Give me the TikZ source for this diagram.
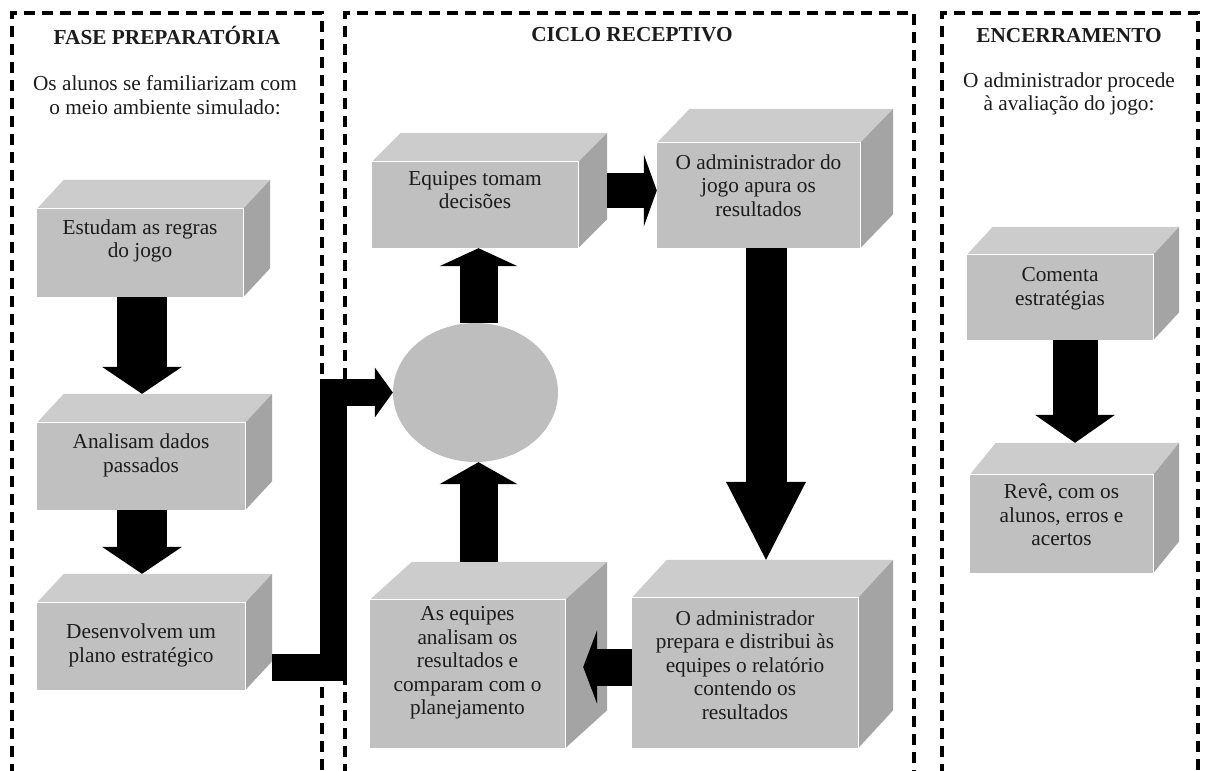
\documentclass[tikz,border=0pt]{standalone}
\usepackage{fontspec}
\setmainfont{Liberation Serif}
\usetikzlibrary{arrows.meta,calc,fit,shapes.geometric}
\definecolor{frontc}{HTML}{C0C0C0}
\definecolor{topc}{HTML}{CCCCCC}
\definecolor{sidec}{HTML}{A4A4A4}
\definecolor{circc}{HTML}{BEBEBE}
\definecolor{txtc}{HTML}{1C1C1C}
% #1 name, #2 x1, #3 ytop, #4 x2, #5 ybot, #6 depth dx, #7 depth dy
\newcommand\mycube[7]{%
  \node[fit={(#2,#3) (#4,#5)}, inner sep=0pt, fill=frontc] (#1) {};
  \fill[topc] (#1.north west) -- ++(#6,-#7) -- ([shift={(#6,-#7)}]#1.north east) -- (#1.north east) -- cycle;
  \fill[sidec] (#1.north east) -- ++(#6,-#7) -- ([shift={(#6,-#7)}]#1.south east) -- (#1.south east) -- cycle;
  \draw[white, line width=1.3pt] (#1.north west) -- (#1.north east) -- (#1.south east);
  \coordinate (#1t) at ($(#1.north)+(0.5*#6,-#7)$);
}
\begin{document}
\begin{tikzpicture}[x=1pt,y=-1pt,
  every node/.style={font=\fontsize{21.3}{23.5}\selectfont, text=txtc, align=center, inner sep=0pt},
  head/.style={font=\fontsize{21.3}{23.5}\selectfont\bfseries},
  frame/.style={line width=4pt, dash pattern=on 11pt off 7pt},
  blk/.style={draw=black, line join=miter}]
\useasboundingbox (0,0) rectangle (1205,771);
\fill[white] (0,0) rectangle (1205,771);

% frames
\draw[frame] (12,775) -- (12,13) -- (322,13) -- (322,775);
\draw[frame] (345,775) -- (345,13) -- (914,13) -- (914,775);
\draw[frame] (942,775) -- (942,13) -- (1198,13) -- (1198,775);

% headings
\node[head] (h1) at (167,35) {FASE PREPARATÓRIA};
\node[head] (h2) at (632,35) {CICLO RECEPTIVO};
\node[head] (h3) at (1069,36) {ENCERRAMENTO};
\node (s1) at (165,95) {Os alunos se familiarizam com\\o meio ambiente simulado:};
\node (s3) at (1069,94) {O administrador procede\\à avaliação do jogo:};

% boxes
\mycube{b1}{37}{209}{243}{297}{27}{29}
\mycube{b2}{37}{423}{245}{510}{27}{29}
\mycube{b3}{37}{603}{245}{690}{27}{29}
\mycube{eq}{372}{162}{578}{248}{29}{29}
\mycube{ad1}{657}{143}{860}{248}{33}{34}
\mycube{aq}{370}{600}{565}{748}{42}{38}
\mycube{ad2}{632}{598}{858}{748}{35}{38}
\mycube{cm}{967}{255}{1153}{340}{26}{28}
\mycube{rv}{970}{475}{1153}{573}{26}{32}

\node[ellipse, fill=circc, minimum width=165pt, minimum height=139pt] (c) at (475.5,392.5) {};

% box texts
\node (b1l) at ($(b1.center)+(0,-12)$) {Estudam as regras\\do jogo};
\node (b2l) at ($(b2.center)+(0,-11)$) {Analisam dados\\passados};
\node (b3l) at ($(b3.center)+(0,-1)$) {Desenvolvem um\\plano estratégico};
\node (eql) at ($(eq.center)+(0,-15)$) {Equipes tomam\\decisões};
\node (ad1l) at ($(ad1.center)+(0,-10)$) {O administrador do\\jogo apura os\\resultados};
\node (aql) at ($(aq.center)+(0,-11)$) {As equipes\\analisam os\\resultados e\\comparam com o\\planejamento};
\node (ad2l) at ($(ad2.center)+(0,-8)$) {O administrador\\prepara e distribui às\\equipes o relatório\\contendo os\\resultados};
\node (cml) at ($(cm.center)+(0,-9)$) {Comenta\\estratégias};
\node (rvl) at ($(rv.center)+(0,-9)$) {Revê, com os\\alunos, erros e\\acertos};

% arrows
\coordinate (a1s) at ($(b1.south)+(2,0)$);
\draw[blk, line width=50pt, -{Triangle[width=80pt,length=27pt,line width=0pt]}] (a1s) -- (a1s |- b2t);
\coordinate (a2s) at ($(b2.south)+(1,0)$);
\draw[blk, line width=50pt, -{Triangle[width=80pt,length=27pt,line width=0pt]}] (a2s) -- (a2s |- b3t);

\coordinate (a3s) at ($(b3.east)+(27,21)$);
\draw[blk, line width=27pt, -{Triangle[width=50pt,length=18pt,line width=0pt]}] (a3s) -- ++(61.5,0) |- (c.west);

\coordinate (a4s) at ($(c.north)+(3,0)$);
\draw[blk, line width=38pt, -{Triangle[width=78pt,length=18pt,line width=0pt]}] (a4s) -- (a4s |- eq.south);
\coordinate (a5e) at ($(c.south)+(3,0)$);
\draw[blk, line width=38pt, -{Triangle[width=78pt,length=22pt,line width=0pt]}] (a5e |- aqt) -- (a5e);

\coordinate (a6e) at ($(ad1.west)+(0,-5)$);
\coordinate (eqr) at ($(eq.east)+(29,0)$);
\draw[blk, line width=35pt, -{Triangle[width=72pt,length=13pt,line width=0pt]}] (eqr |- a6e) -- (a6e);

\coordinate (a7s) at ($(ad1.south)+(7.5,0)$);
\draw[blk, line width=41pt, -{Triangle[width=80pt,length=78pt,line width=0pt]}] (a7s) -- (a7s |- ad2t);

\coordinate (a8s) at ($(ad2.west)+(0,-6)$);
\coordinate (a8e) at ($(aq.east)+(18,-7)$);
\draw[blk, line width=37pt, -{Triangle[width=74pt,length=14pt,line width=0pt]}] (a8s) -- (a8e);

\coordinate (a9s) at ($(cm.south)+(15,0)$);
\draw[blk, line width=45pt, -{Triangle[width=80pt,length=28pt,line width=0pt]}] (a9s) -- (a9s |- rvt);
\end{tikzpicture}
\end{document}
